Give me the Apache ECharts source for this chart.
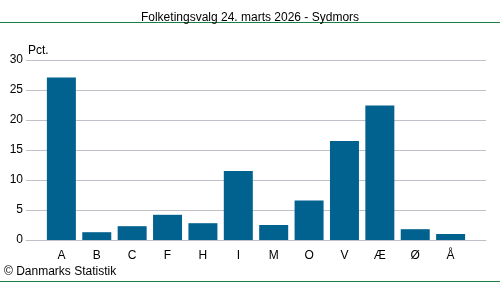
<!DOCTYPE html>
<html><head><meta charset="utf-8">
<script src="https://cdn.jsdelivr.net/npm/echarts@6/dist/echarts.min.js"></script>
<style>html,body{margin:0;padding:0;background:#fff}#c{width:500px;height:282px}</style>
</head><body><div id="c"></div>
<script>
var categories = ['A','B','C','F','H','I','M','O','V','Æ','Ø','Å'];
var values = [27.1, 1.3, 2.3, 4.2, 2.8, 11.5, 2.5, 6.6, 16.5, 22.4, 1.8, 1.0];
var yTicks = [0, 5, 10, 15, 20, 25, 30];

var chart = echarts.init(document.getElementById('c'));
var font = 'Liberation Sans, Arial, sans-serif';
chart.setOption({
  animation: false,
  title: {
    text: 'Folketingsvalg 24. marts 2026 - Sydmors',
    left: 'center', top: 7,
    textStyle: {fontFamily: font, fontSize: 12, fontWeight: 'normal', color: '#000'}
  },
  graphic: [
    {type: 'line', shape: {x1: 0, y1: 22.5, x2: 500, y2: 22.5}, style: {stroke: '#1a7f45', lineWidth: 1}},
    {type: 'line', shape: {x1: 0, y1: 281.5, x2: 500, y2: 281.5}, style: {stroke: '#1a7f45', lineWidth: 1}},
    {type: 'text', left: 4, top: 266, style: {text: '© Danmarks Statistik', font: '12px ' + font, fill: '#000'}},
    {type: 'text', left: 28, top: 45, style: {text: 'Pct.', font: '12px ' + font, fill: '#000'}}
  ],
  grid: {left: 26, right: 14, top: 60, height: 180},
  xAxis: {
    type: 'value', min: -1, max: 12, interval: 1,
    splitLine: {show: false},
    axisTick: {show: false},
    axisLine: {show: true, lineStyle: {color: '#c0c0c8'}},
    axisLabel: {
      fontFamily: font, fontSize: 12, color: '#000', margin: 10,
      formatter: function (v) { return categories[v] !== undefined ? categories[v] : ''; }
    }
  },
  yAxis: {
    type: 'value', min: yTicks[0], max: yTicks[yTicks.length - 1], interval: 5,
    axisLine: {show: false}, axisTick: {show: false},
    axisLabel: {fontFamily: font, fontSize: 12, color: '#000', margin: 3},
    splitLine: {lineStyle: {color: '#c0c0c8', width: 1}}
  },
  series: [{
    type: 'bar',
    barWidth: 29,
    itemStyle: {color: '#02628f'},
    data: values.map(function (v, i) { return [i, v]; })
  }]
});
</script></body></html>
